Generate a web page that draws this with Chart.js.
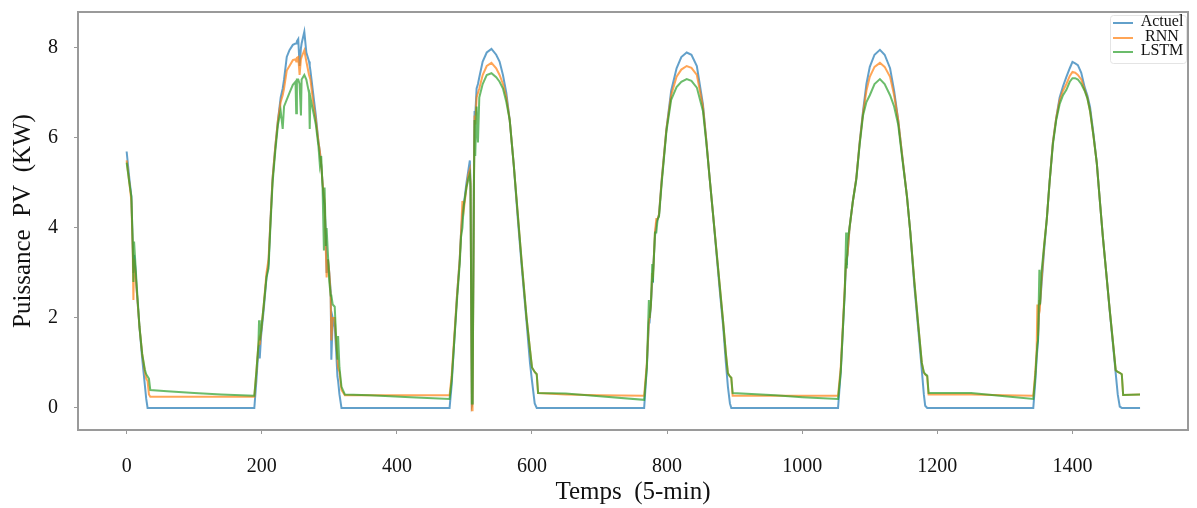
<!DOCTYPE html>
<html>
<head>
<meta charset="utf-8">
<script src="https://cdn.jsdelivr.net/npm/chart.js@4.4.1/dist/chart.umd.min.js"></script>
<style>
  body { margin: 0; background: #fff; }
  canvas { display: block; }
</style>
</head>
<body>
<canvas id="pv-chart" width="1197" height="508"></canvas>
<script>
const temps = [
  0, 4, 7, 9, 10, 11, 13, 15, 19, 23, 27, 29, 31, 33, 35,
  60, 100, 140, 189,
  192, 195, 196, 197, 199, 203, 207, 210, 213, 216, 220, 224, 228, 231, 233, 237, 241, 246, 250, 251,
  252, 254, 256, 258, 259, 263, 266, 270, 271, 272, 276, 280, 284, 286, 288, 290, 292, 293, 295, 296,
  298, 300, 302, 303, 305, 308, 310, 312, 313, 315, 318, 323,
  360, 420, 478,
  481, 485, 489, 493, 495, 497, 499, 503, 506, 508, 509, 511, 512, 514, 515, 516, 518, 520, 522, 527,
  533, 540, 547, 552, 557, 562, 567, 573, 579, 585, 592, 597, 600, 604, 607, 609,
  650, 700, 766,
  770, 773, 774, 776, 778, 779, 782, 784, 786, 788, 792, 799, 806, 814, 821,
  829, 836, 844, 853, 858, 863, 868, 873, 878, 883, 887, 890, 893, 895, 897,
  960, 1000, 1053,
  1054, 1057, 1060, 1063, 1065, 1066, 1067, 1070, 1075, 1080, 1085, 1090, 1095, 1100, 1107,
  1115, 1122, 1130, 1136, 1142, 1148, 1155, 1160, 1166, 1172, 1177, 1180, 1182, 1185, 1187,
  1250, 1300, 1342,
  1345, 1347, 1348, 1349, 1351, 1352, 1354, 1358, 1362, 1366, 1371, 1376, 1381, 1386, 1391,
  1396, 1400, 1404, 1408, 1413, 1418, 1422, 1426, 1431, 1436, 1440, 1445, 1450, 1455, 1460,
  1464, 1467, 1470, 1473, 1475, 1500
]

const actuel = [
  5.7, 5.1, 4.7, 3.6, 3.0, 3.4, 3.1, 2.6, 1.8, 1.1, 0.5, 0.2, 0, 0, 0,
  0, 0, 0, 0,
  0.6, 1.3, 1.4, 1.1, 1.6, 2.2, 2.9, 3.2, 4.2, 5.1, 5.8, 6.4, 6.9, 7.1, 7.3, 7.8, 7.95, 8.07, 8.1, 8.1,
  8.15, 8.2, 7.6, 8.0, 8.1, 8.36, 7.9, 7.7, 7.6, 7.5, 7.0, 6.5, 5.9, 5.7, 5.4, 5.0, 4.6, 4.5, 3.8, 3.0,
  3.3, 3.0, 2.6, 1.07, 2.0, 1.8, 1.3, 0.7, 0.6, 0.3, 0, 0,
  0, 0, 0,
  0.5, 1.5, 2.5, 3.3, 3.9, 4.3, 4.5, 5.0, 5.3, 5.5, 5.0, 0.05, 0.1, 5.0, 6.6, 6.5, 7.1, 7.2, 7.35, 7.7,
  7.9, 7.98, 7.85, 7.7, 7.4, 7.0, 6.4, 5.4, 4.2, 3.1, 1.9, 1.0, 0.6, 0.1, 0, 0,
  0, 0, 0,
  0.9, 1.9, 1.9, 2.3, 2.8, 3.0, 3.8, 4.1, 4.2, 4.3, 5.07, 6.2, 7.05, 7.55, 7.8,
  7.9, 7.85, 7.6, 6.75, 5.95, 5.1, 4.3, 3.45, 2.6, 1.8, 1.0, 0.47, 0.1, 0, 0,
  0, 0, 0,
  0, 0.8, 1.7, 2.6, 3.2, 3.3, 3.4, 4.0, 4.6, 5.1, 5.9, 6.6, 7.2, 7.58, 7.85,
  7.96, 7.85, 7.55, 7.05, 6.4, 5.6, 4.7, 3.9, 2.7, 1.7, 0.84, 0.3, 0.05, 0, 0,
  0, 0, 0,
  0.6, 1.1, 1.3, 1.5, 2.3, 2.3, 2.7, 3.5, 4.2, 5.0, 5.9, 6.45, 6.9, 7.15, 7.36,
  7.55, 7.69, 7.66, 7.62, 7.45, 7.13, 6.95, 6.69, 6.1, 5.44, 4.7, 3.8, 3.0, 2.18, 1.4,
  0.77, 0.3, 0.03, 0, 0, 0
]

const rnn = [
  5.5, 5.0, 4.6, 3.5, 2.4, 3.3, 3.0, 2.6, 1.8, 1.2, 0.8, 0.65, 0.6, 0.3, 0.25,
  0.25, 0.25, 0.25, 0.25,
  0.8, 1.4, 1.5, 1.4, 1.7, 2.3, 3.0, 3.3, 4.2, 5.1, 5.8, 6.4, 6.8, 6.95, 7.1, 7.5, 7.6, 7.73, 7.75, 7.7,
  7.78, 7.8, 7.4, 7.75, 7.8, 7.95, 7.7, 7.4, 7.35, 7.3, 6.8, 6.4, 5.9, 5.7, 5.4, 5.0, 4.7, 4.6, 3.4, 2.9,
  3.3, 3.0, 2.5, 1.5, 2.0, 2.0, 1.5, 1.1, 0.9, 0.8, 0.4, 0.28,
  0.28, 0.28, 0.28,
  0.7, 1.6, 2.5, 3.3, 3.9, 4.6, 4.4, 4.9, 5.2, 5.3, 5.0, -0.05, -0.05, 4.9, 6.5, 6.3, 6.9, 7.0, 7.1, 7.4,
  7.6, 7.67, 7.55, 7.4, 7.2, 6.9, 6.4, 5.4, 4.3, 3.2, 2.0, 1.3, 0.9, 0.8, 0.75, 0.33,
  0.3, 0.28, 0.27,
  1.0, 1.95, 2.0, 2.3, 3.0, 2.9, 3.9, 4.2, 4.2, 4.3, 5.07, 6.2, 6.95, 7.36, 7.52,
  7.6, 7.56, 7.4, 6.7, 5.95, 5.1, 4.3, 3.5, 2.7, 1.9, 1.2, 0.77, 0.7, 0.67, 0.27,
  0.27, 0.27, 0.27,
  0.27, 0.9, 1.8, 2.7, 3.3, 3.3, 3.4, 4.0, 4.6, 5.1, 5.9, 6.55, 7.05, 7.36, 7.58,
  7.67, 7.58, 7.36, 6.95, 6.4, 5.6, 4.7, 3.9, 2.8, 1.8, 1.0, 0.78, 0.75, 0.7, 0.3,
  0.3, 0.28, 0.27,
  0.8, 1.3, 2.3, 1.6, 2.4, 2.3, 2.8, 3.6, 4.2, 5.0, 5.9, 6.45, 6.84, 7.05, 7.2,
  7.38, 7.47, 7.45, 7.4, 7.3, 7.07, 6.9, 6.6, 6.05, 5.44, 4.7, 3.8, 3.0, 2.2, 1.45,
  0.84, 0.8, 0.78, 0.75, 0.29, 0.3
]

const lstm = [
  5.45, 5.0, 4.7, 3.7, 2.8, 3.7, 3.2, 2.7, 1.8, 1.2, 0.85, 0.75, 0.7, 0.65, 0.4,
  0.37, 0.33, 0.3, 0.27,
  0.8, 1.4, 1.95, 1.5, 1.7, 2.3, 2.9, 3.1, 4.1, 5.0, 5.7, 6.3, 6.6, 6.2, 6.7, 6.85, 7.0, 7.18, 7.25, 6.55,
  7.3, 7.3, 7.2, 6.5, 7.3, 7.4, 7.3, 7.0, 6.2, 6.9, 6.6, 6.3, 5.8, 5.4, 5.6, 4.9, 3.5, 4.9, 3.6, 4.0,
  3.4, 2.8, 2.5, 2.5, 2.3, 2.25, 1.6, 1.07, 1.6, 0.9, 0.47, 0.3,
  0.28, 0.24, 0.2,
  0.6, 1.5, 2.4, 3.2, 3.8, 4.0, 4.5, 4.9, 5.1, 5.2, 4.9, 0.1, 0.1, 4.8, 6.4, 5.6, 6.7, 5.9, 6.9, 7.2,
  7.4, 7.44, 7.35, 7.25, 7.1, 6.8, 6.4, 5.4, 4.3, 3.2, 2.0, 1.3, 0.9, 0.8, 0.75, 0.33,
  0.32, 0.26, 0.18,
  0.9, 2.4, 2.0, 2.3, 3.2, 2.8, 3.9, 3.9, 4.2, 4.25, 5.0, 6.15, 6.85, 7.13, 7.25,
  7.31, 7.27, 7.12, 6.6, 5.9, 5.1, 4.3, 3.5, 2.7, 1.9, 1.2, 0.77, 0.7, 0.67, 0.33,
  0.28, 0.24, 0.2,
  0.2, 0.8, 1.7, 2.6, 3.9, 3.1, 3.7, 4.0, 4.6, 5.07, 5.85, 6.5, 6.8, 6.95, 7.2,
  7.31, 7.2, 6.95, 6.7, 6.3, 5.55, 4.7, 3.9, 2.8, 1.8, 1.0, 0.8, 0.75, 0.72, 0.33,
  0.33, 0.26, 0.2,
  0.7, 1.2, 1.4, 1.5, 3.07, 2.3, 3.0, 3.6, 4.2, 5.0, 5.85, 6.4, 6.75, 6.95, 7.07,
  7.25, 7.33, 7.33, 7.3, 7.2, 7.05, 6.88, 6.6, 6.05, 5.44, 4.7, 3.8, 3.0, 2.2, 1.45,
  0.84, 0.8, 0.78, 0.75, 0.29, 0.3
]

const xTicks = [0, 200, 400, 600, 800, 1000, 1200, 1400]
const yTicks = [0, 2, 4, 6, 8]

const names = ['Actuel', 'RNN', 'LSTM']
const colors = ['rgba(31, 119, 180, 0.7)', 'rgba(255, 127, 14, 0.7)', 'rgba(44, 160, 44, 0.7)']

const serif = "'Liberation Serif', 'DejaVu Serif', serif"

const toPoints = values => temps.map((t, i) => ({ x: t, y: values[i] }))

// box around the plot + small legend in the upper right corner
const frame = {
  id: 'frame',
  afterDraw(chart) {
    const { ctx, chartArea: a } = chart
    ctx.save()
    ctx.strokeStyle = '#9a9a9a'
    ctx.lineWidth = 2
    ctx.strokeRect(a.left, a.top, a.right - a.left, a.bottom - a.top)

    ctx.fillStyle = 'rgba(255, 255, 255, 0.8)'
    ctx.strokeStyle = '#e4e4e4'
    ctx.lineWidth = 1
    ctx.beginPath()
    ctx.roundRect(1110.5, 15.5, 76, 48, 3)
    ctx.fill()
    ctx.stroke()

    const rows = [22, 37, 51]
    ctx.font = '16px ' + serif
    ctx.textAlign = 'center'
    ctx.textBaseline = 'middle'
    chart.data.datasets.forEach((ds, i) => {
      ctx.strokeStyle = ds.borderColor
      ctx.lineWidth = 2
      ctx.beginPath()
      ctx.moveTo(1113, rows[i] + 1)
      ctx.lineTo(1133, rows[i] + 1)
      ctx.stroke()
      ctx.fillStyle = '#111'
      ctx.fillText(ds.label, 1162, rows[i])
    })
    ctx.restore()
  }
}

const data = {
  datasets: [actuel, rnn, lstm].map((values, i) => ({
    label: names[i],
    data: toPoints(values),
    borderColor: colors[i],
    borderWidth: 2,
    pointRadius: 0,
    fill: false,
    order: 2 - i,
  })),
}

const config = {
  type: 'line',
  data: data,
  options: {
    responsive: false,
    animation: false,
    layout: { padding: { top: 12, right: 9, left: 0, bottom: 0 } },
    plugins: {
      legend: { display: false },
      tooltip: { enabled: false },
    },
    scales: {
      x: {
        type: 'linear',
        min: -72,
        max: 1571,
        afterBuildTicks: s => { s.ticks = xTicks.map(v => ({ value: v })) },
        afterFit: s => {
          s.height = 78
          s.paddingLeft = 0
          s.paddingRight = 0
        },
        grid: { drawOnChartArea: false, tickLength: 4, color: '#999' },
        border: { display: false },
        ticks: {
          font: { family: serif, size: 20 },
          color: '#111',
          padding: 21,
          maxRotation: 0,
          autoSkip: false,
          callback: v => String(v),
        },
        title: {
          display: true,
          text: 'Temps  (5-min)',
          font: { family: serif, size: 25 },
          color: '#111',
          padding: { top: 0, bottom: 1 },
        },
      },
      y: {
        min: -0.49,
        max: 8.8,
        afterBuildTicks: s => { s.ticks = yTicks.map(v => ({ value: v })) },
        afterFit: s => {
          s.width = 78
          s.paddingTop = 0
          s.paddingBottom = 0
        },
        grid: { drawOnChartArea: false, tickLength: 4, color: '#999' },
        border: { display: false },
        ticks: { font: { family: serif, size: 20 }, color: '#111', padding: 16, callback: v => String(v) },
        title: {
          display: true,
          text: 'Puissance  PV  (KW)',
          font: { family: serif, size: 25 },
          color: '#111',
          padding: { top: 8, bottom: 0 },
        },
      },
    },
  },
  plugins: [frame],
}

const pvChart = new Chart(document.querySelector('#pv-chart').getContext('2d'), config)
</script>
</body>
</html>
